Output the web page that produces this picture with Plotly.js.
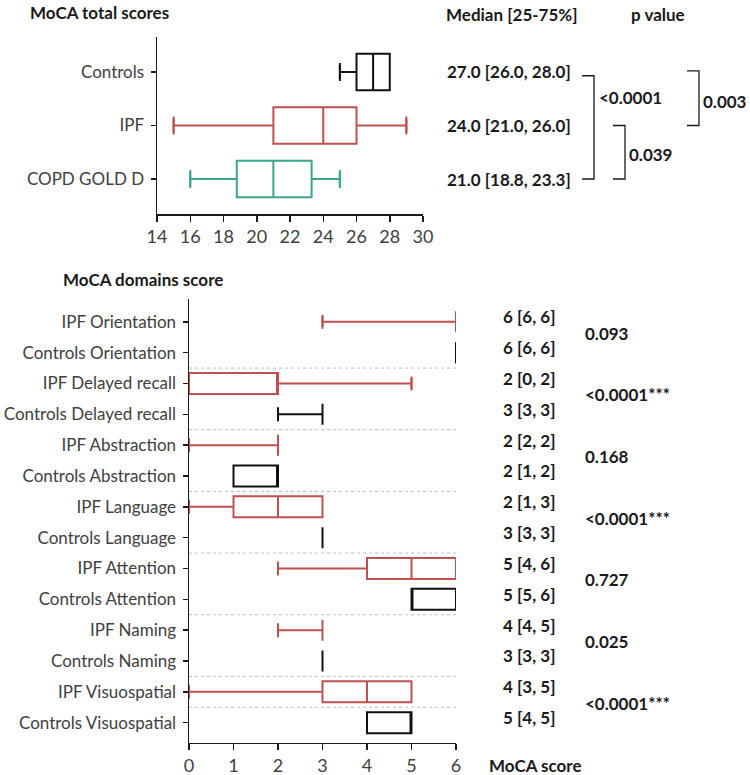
<!DOCTYPE html>
<html>
<head>
<meta charset="utf-8">
<script src="https://cdn.plot.ly/plotly-3.0.1.min.js"></script>
<style>html,body{margin:0;padding:0;background:#fff;}#chart{width:750px;height:775px;}</style>
</head>
<body>
<div id="chart"></div>
<script>
// ---- Top panel data: MoCA total scores ----
const topCategories = ['Controls', 'IPF', 'COPD GOLD D'];
const topLower  = [25, 15, 16];
const topQ1     = [26, 21, 18.8];
const topMedian = [27, 24, 21];
const topQ3     = [28, 26, 23.3];
const topUpper  = [28, 29, 25];
const topColors = ['#111111', '#c0504d', '#3aa58a'];
const topLabels = ['27.0 [26.0, 28.0]', '24.0 [21.0, 26.0]', '21.0 [18.8, 23.3]'];
const topTicks  = [14, 16, 18, 20, 22, 24, 26, 28, 30];

// ---- Bottom panel data: MoCA domains score ----
const domainCategories = ['IPF Orientation', 'Controls Orientation', 'IPF Delayed recall', 'Controls Delayed recall',
  'IPF Abstraction', 'Controls Abstraction', 'IPF Language', 'Controls Language', 'IPF Attention', 'Controls Attention',
  'IPF Naming', 'Controls Naming', 'IPF Visuospatial', 'Controls Visuospatial'];
const domainLower  = [3, 6, 0, 2, 0, 1, 0, 3, 2, 5, 2, 3, 0, 4];
const domainQ1     = [6, 6, 0, 3, 2, 1, 1, 3, 4, 5, 3, 3, 3, 4];
const domainMedian = [6, 6, 2, 3, 2, 2, 2, 3, 5, 5, 3, 3, 4, 5];
const domainQ3     = [6, 6, 2, 3, 2, 2, 3, 3, 6, 6, 3, 3, 5, 5];
const domainUpper  = [6, 6, 5, 3, 2, 2, 3, 3, 6, 6, 3, 3, 5, 5];
const domainLabels = ['6 [6, 6]', '6 [6, 6]', '2 [0, 2]', '3 [3, 3]', '2 [2, 2]', '2 [1, 2]', '2 [1, 3]',
  '3 [3, 3]', '5 [4, 6]', '5 [5, 6]', '4 [4, 5]', '3 [3, 3]', '4 [3, 5]', '5 [4, 5]'];
const domainPValues = ['0.093', '<0.0001***', '0.168', '<0.0001***', '0.727', '0.025', '<0.0001***'];
const domainTicks = [0, 1, 2, 3, 4, 5, 6];
const groupColors = {IPF: '#c0504d', Controls: '#111111'};

const W = 750, H = 775;
const px = v => v / W;
const py = v => 1 - v / H;

const traces = [];
const BOXW = 0.68;

function capTrace(xs, ys, color, xa, ya) {
  return {type: 'scatter', mode: 'markers', x: xs, y: ys, xaxis: xa, yaxis: ya, cliponaxis: false,
    hoverinfo: 'skip', showlegend: false,
    marker: {symbol: 'line-ns-open', size: 10, color: color, line: {width: 2, color: color}}};
}

// top boxes
topCategories.forEach((c, i) => {
  traces.push({type: 'box', orientation: 'h', y: [c], q1: [topQ1[i]], median: [topMedian[i]], q3: [topQ3[i]],
    lowerfence: [topLower[i]], upperfence: [topUpper[i]], width: BOXW, xaxis: 'x', yaxis: 'y',
    line: {color: topColors[i], width: 2}, fillcolor: 'rgba(0,0,0,0)', hoverinfo: 'skip', showlegend: false});
  const cx = [], cy = [];
  if (topLower[i] < topQ1[i]) { cx.push(topLower[i]); cy.push(c); }
  if (topUpper[i] > topQ3[i]) { cx.push(topUpper[i]); cy.push(c); }
  traces.push(capTrace(cx, cy, topColors[i], 'x', 'y'));
});

// bottom boxes, grouped by IPF / Controls
['IPF', 'Controls'].forEach(g => {
  const idx = domainCategories.map((c, i) => i).filter(i => domainCategories[i].startsWith(g));
  const color = groupColors[g];
  traces.push({type: 'box', orientation: 'h', y: idx.map(i => domainCategories[i]),
    q1: idx.map(i => domainQ1[i]), median: idx.map(i => domainMedian[i]), q3: idx.map(i => domainQ3[i]),
    lowerfence: idx.map(i => domainLower[i]), upperfence: idx.map(i => domainUpper[i]),
    width: BOXW, xaxis: 'x2', yaxis: 'y2', line: {color: color, width: 2}, fillcolor: 'rgba(0,0,0,0)',
    hoverinfo: 'skip', showlegend: false});
  const cx = [], cy = [];
  idx.forEach(i => {
    if (domainLower[i] < domainQ1[i]) { cx.push(domainLower[i]); cy.push(domainCategories[i]); }
    if (domainUpper[i] > domainQ3[i]) { cx.push(domainUpper[i]); cy.push(domainCategories[i]); }
  });
  traces.push(capTrace(cx, cy, color, 'x2', 'y2'));
});

const tickFont = {family: 'Lato, "Open Sans", sans-serif', size: 18, color: '#404040'};
const catFont  = {family: 'Lato, "Open Sans", sans-serif', size: 17, color: '#404040'};
const boldFont = (s) => ({family: 'Lato, "Open Sans", sans-serif', size: s, color: '#1a1a1a', weight: 'bold'});

const annotations = [];
const shapes = [];

// titles and headers
annotations.push({text: 'MoCA total scores', xref: 'paper', yref: 'paper', x: px(28), y: py(12), xanchor: 'left', yanchor: 'middle', showarrow: false, font: boldFont(17)});
annotations.push({text: 'Median [25-75%]', xref: 'paper', yref: 'paper', x: px(444), y: py(14), xanchor: 'left', yanchor: 'middle', showarrow: false, font: boldFont(17)});
annotations.push({text: 'p value', xref: 'paper', yref: 'paper', x: px(629), y: py(14), xanchor: 'left', yanchor: 'middle', showarrow: false, font: boldFont(17)});
annotations.push({text: 'MoCA domains score', xref: 'paper', yref: 'paper', x: px(61), y: py(279), xanchor: 'left', yanchor: 'middle', showarrow: false, font: boldFont(17)});
annotations.push({text: 'MoCA score', xref: 'paper', yref: 'paper', x: px(487), y: py(765), xanchor: 'left', yanchor: 'middle', showarrow: false, font: boldFont(17)});

// top row labels
topCategories.forEach((c, i) => {
  annotations.push({text: topLabels[i], xref: 'paper', yref: 'y', x: px(445), y: c, xanchor: 'left', yanchor: 'middle', showarrow: false, font: boldFont(17)});
});
// top brackets (positions on category index: COPD=0, IPF=1, Controls=2)
const nTop = topCategories.length;
const topPos = c => nTop - 1 - topCategories.indexOf(c);
function bracket(x0, x1, ya, yb, yref) {
  shapes.push({type: 'path', xref: 'paper', yref: yref,
    path: `M ${px(x0)},${ya} L ${px(x1)},${ya} L ${px(x1)},${yb} L ${px(x0)},${yb}`,
    line: {color: '#1a1a1a', width: 1.3}});
}
bracket(582, 594, topPos('Controls') - 0.07, topPos('COPD GOLD D'), 'y');
bracket(687, 699, topPos('Controls') + 0.02, topPos('IPF'), 'y');
bracket(613, 625, topPos('IPF'), topPos('COPD GOLD D'), 'y');
annotations.push({text: '<0.0001', xref: 'paper', yref: 'y', x: px(597), y: (topPos('Controls') + topPos('IPF')) / 2 + 0.03, xanchor: 'left', yanchor: 'middle', showarrow: false, font: boldFont(17)});
annotations.push({text: '0.003', xref: 'paper', yref: 'y', x: px(701), y: (topPos('Controls') + topPos('IPF')) / 2 - 0.05, xanchor: 'left', yanchor: 'middle', showarrow: false, font: boldFont(17)});
annotations.push({text: '0.039', xref: 'paper', yref: 'y', x: px(627), y: (topPos('IPF') + topPos('COPD GOLD D')) / 2 - 0.05, xanchor: 'left', yanchor: 'middle', showarrow: false, font: boldFont(17)});

// bottom labels
const nDom = domainCategories.length;
const domPos = i => nDom - 1 - i;
domainCategories.forEach((c, i) => {
  annotations.push({text: domainLabels[i], xref: 'paper', yref: 'y2', x: px(501), y: domPos(i), yshift: 5, xanchor: 'left', yanchor: 'middle', showarrow: false, font: boldFont(17)});
});
domainPValues.forEach((p, k) => {
  annotations.push({text: p, xref: 'paper', yref: 'y2', x: px(583), y: domPos(2 * k + 0.5), yshift: 4, xanchor: 'left', yanchor: 'middle', showarrow: false, font: boldFont(17)});
});
// dotted separators between groups
const sepAfter = [1, 3, 5, 7, 9, 11, 12];
sepAfter.forEach(i => {
  shapes.push({type: 'line', xref: 'x2', yref: 'y2', x0: domainTicks[0], x1: domainTicks[domainTicks.length - 1],
    y0: domPos(i + 0.5), y1: domPos(i + 0.5), line: {color: '#bdbdbd', width: 1, dash: 'dot'}, layer: 'below'});
});

const axisCommon = {showgrid: false, zeroline: false, showline: true, linecolor: '#1a1a1a', linewidth: 1.5,
  ticks: 'outside', ticklen: 6, tickwidth: 1.5, tickcolor: '#1a1a1a', fixedrange: true};

const layout = {
  width: W, height: H, margin: {l: 0, r: 0, t: 0, b: 0}, paper_bgcolor: '#ffffff', plot_bgcolor: '#ffffff',
  showlegend: false, boxmode: 'overlay',
  xaxis: Object.assign({}, axisCommon, {domain: [px(157), px(423)], range: [14, 30], tickvals: topTicks,
    tickfont: tickFont, anchor: 'y'}),
  yaxis: Object.assign({}, axisCommon, {domain: [py(214), py(37)], type: 'category',
    categoryarray: topCategories.slice().reverse(), categoryorder: 'array', range: [-0.654, 2.654],
    tickfont: catFont, anchor: 'x', ticklen: 5, ticklabelstandoff: 3}),
  xaxis2: Object.assign({}, axisCommon, {domain: [px(189), px(456)], range: [0, 6], tickvals: domainTicks,
    tickfont: tickFont, anchor: 'y2'}),
  yaxis2: Object.assign({}, axisCommon, {domain: [py(742.7), py(299)], type: 'category',
    categoryarray: domainCategories.slice().reverse(), categoryorder: 'array', range: [-0.65, 13.74],
    tickfont: catFont, anchor: 'x2', ticklen: 5, ticklabelstandoff: 3}),
  annotations: annotations, shapes: shapes
};

Plotly.newPlot('chart', traces, layout, {staticPlot: true, displayModeBar: false});
</script>
</body>
</html>
